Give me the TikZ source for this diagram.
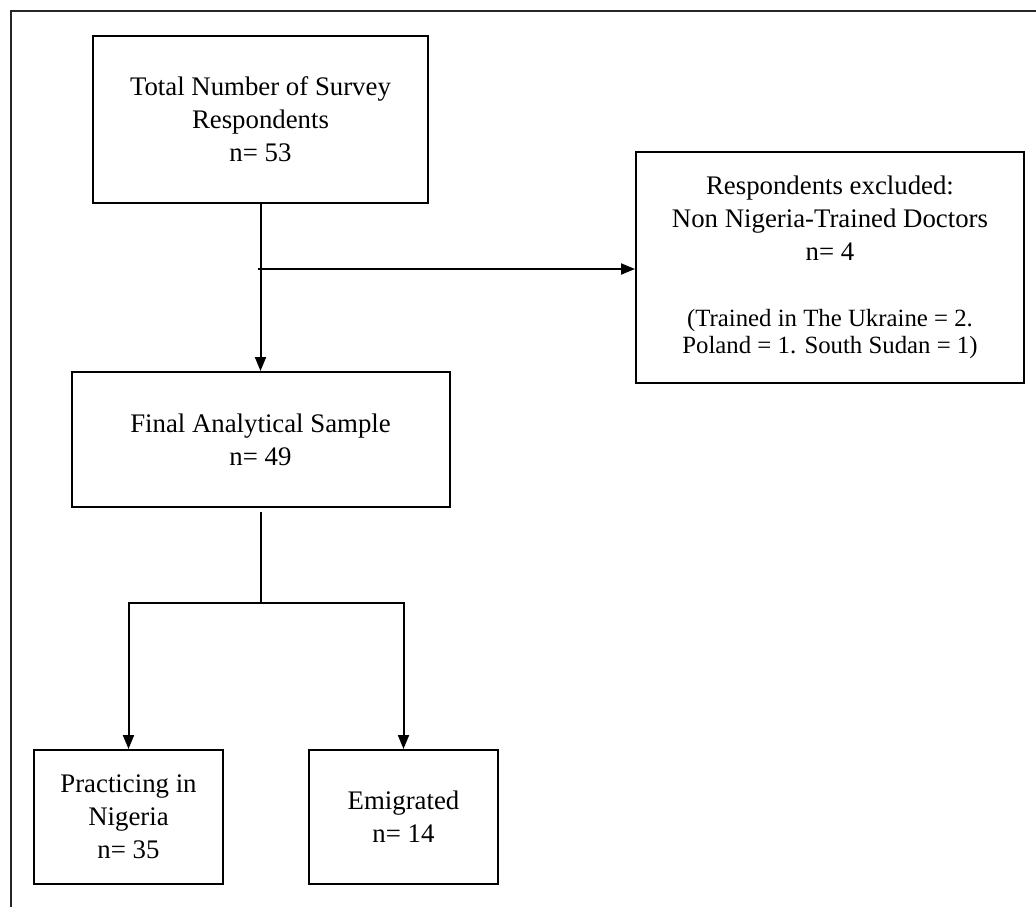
\documentclass[tikz,border=0pt]{standalone}
\usepackage{fontspec}
\setmainfont{Liberation Serif}
\usetikzlibrary{arrows.meta}
\tikzset{
  box/.style={draw=black, line width=2pt, inner sep=0pt, align=center,
    font=\fontsize{26.8}{33}\selectfont, fill=white},
  conn/.style={draw=black, line width=2pt},
  arr/.style={conn, -{Triangle[length=14pt,width=11pt]}},
  frame/.style={draw=black!85, line width=1.5pt}
}
\begin{document}
\begin{tikzpicture}[x=1pt,y=-1pt]
\useasboundingbox (0,0) rectangle (1036,907);
\fill[white] (0,0) rectangle (1036,907);
\draw[frame] (11,907) -- (11,11) -- (1036,11);

\node[box, minimum width=335pt, minimum height=167pt] (total) at (260.5,119.5)
  {Total Number of Survey\\Respondents\\n= 53};
\node[box, minimum width=388pt, minimum height=231pt] (excl) at (830,267.5)
  {Respondents excluded:\\Non Nigeria-Trained Doctors\\n= 4\\[32.7pt]
   {\fontsize{24.8}{27}\selectfont (Trained in The Ukraine = 2.}\\[-6pt]
   {\fontsize{24.8}{27}\selectfont Poland = 1. South Sudan = 1)}};
\node[box, minimum width=378pt, minimum height=135pt] (final) at (260.5,439.5)
  {Final Analytical Sample\\n= 49};
\node[box, minimum width=189pt, minimum height=134pt] (prac) at (128.5,817)
  {Practicing in\\Nigeria\\n= 35};
\node[box, minimum width=189pt, minimum height=134pt] (emig) at (403.5,817)
  {Emigrated\\n= 14};

\coordinate (j1) at (258,269);
\coordinate (split) at (260.5,603);

\draw[arr] (total.south) -- (total.south |- final.north);
\draw[arr] (j1) -- (j1 -| excl.west);
\draw[conn, shorten <=4pt] (final.south) -- (split);
\draw[arr] (split) -| (prac.north);
\draw[arr] (split) -| (emig.north);
\end{tikzpicture}
\end{document}
